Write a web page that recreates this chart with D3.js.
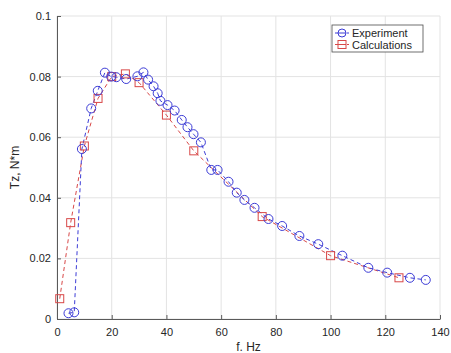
<!DOCTYPE html>
<html>
<head>
<meta charset="utf-8">
<script src="https://cdn.jsdelivr.net/npm/d3@7"></script>
<style>
  body { margin: 0; background: #fff; }
  text { font-family: "Liberation Sans", Arial, sans-serif; }
</style>
</head>
<body>
<div id="chart"></div>
<script>
// measured data
var expF = [4.2, 6.3, 9.1, 12.5, 14.9, 17.5, 19.8, 21.7, 25.3, 29.4, 31.6, 33.3, 35.3, 36.8, 37.8,
            40.4, 43.0, 45.6, 47.7, 49.9, 52.6, 56.4, 58.7, 62.7, 65.7, 68.5, 72.2, 77.3, 82.3,
            88.6, 95.5, 104.3, 113.8, 120.7, 129.0, 134.8];
var expT = [0.0019, 0.0022, 0.0561, 0.0695, 0.0753, 0.0813, 0.0800, 0.0798, 0.0792, 0.0801, 0.0814,
            0.0790, 0.0768, 0.0745, 0.0720, 0.0706, 0.0688, 0.0657, 0.0633, 0.0610, 0.0583, 0.0492,
            0.0492, 0.0453, 0.0417, 0.0393, 0.0367, 0.0330, 0.0307, 0.0274, 0.0247, 0.0209, 0.0169,
            0.0153, 0.0136, 0.0129];
// calculated data
var calcF = [1, 5, 10, 15, 20, 25, 30, 40, 50, 75, 100, 125];
var calcT = [0.0067, 0.0318, 0.0571, 0.0728, 0.0800, 0.0809, 0.0780, 0.0673, 0.0555, 0.0338, 0.0209, 0.0136];

var xTicks = [0, 20, 40, 60, 80, 100, 120, 140];
var yTicks = [0, 0.02, 0.04, 0.06, 0.08, 0.1];
var legendNames = ["Experiment", "Calculations"];

var width = 451, height = 353;
var margin = {top: 16, right: 11, bottom: 34, left: 57};

var blue = "#3c3cd6", red = "#d84848";

var svg = d3.select("#chart").append("svg")
    .attr("width", width)
    .attr("height", height);

var x = d3.scaleLinear().domain([0, 140]).range([margin.left, width - margin.right]);
var y = d3.scaleLinear().domain([0, 0.1]).range([height - margin.bottom, margin.top]);

// grid
svg.append("g").selectAll("line").data(xTicks).enter().append("line")
    .attr("x1", function(d) { return x(d); }).attr("x2", function(d) { return x(d); })
    .attr("y1", y(0)).attr("y2", y(0.1))
    .attr("stroke", "#e3e3e3").attr("stroke-width", 1);
svg.append("g").selectAll("line").data(yTicks).enter().append("line")
    .attr("y1", function(d) { return y(d); }).attr("y2", function(d) { return y(d); })
    .attr("x1", x(0)).attr("x2", x(140))
    .attr("stroke", "#e3e3e3").attr("stroke-width", 1);

// axes, ticks drawn inside
var xAxis = svg.append("g")
    .attr("transform", "translate(0," + y(0) + ")")
    .call(d3.axisBottom(x).tickValues(xTicks).tickSizeInner(-4).tickSizeOuter(0).tickPadding(9)
        .tickFormat(d3.format("d")));
var yAxis = svg.append("g")
    .attr("transform", "translate(" + x(0) + ",0)")
    .call(d3.axisLeft(y).tickValues(yTicks).tickSizeInner(-4).tickSizeOuter(0).tickPadding(6)
        .tickFormat(function(d) { return d === 0 ? "0" : d3.format("~g")(d); }));

[xAxis, yAxis].forEach(function(a) {
    a.select(".domain").attr("stroke", "#5a5a5a");
    a.selectAll(".tick line").attr("stroke", "#5a5a5a");
    a.selectAll(".tick text").attr("fill", "#262626")
        .style("font-size", "11px")
        .style("font-family", "'Liberation Sans', Arial, sans-serif");
});

// axis labels
svg.append("text")
    .attr("x", (x(0) + x(140)) / 2).attr("y", 351)
    .attr("text-anchor", "middle")
    .attr("fill", "#262626").style("font-size", "12px")
    .text("f. Hz");
svg.append("text")
    .attr("transform", "translate(19," + ((y(0) + y(0.1)) / 2) + ") rotate(-90)")
    .attr("text-anchor", "middle")
    .attr("fill", "#262626").style("font-size", "12px")
    .text("Tz, N*m");

var expData = expF.map(function(f, i) { return [f, expT[i]]; });
var calcData = calcF.map(function(f, i) { return [f, calcT[i]]; });

var line = d3.line()
    .x(function(d) { return x(d[0]); })
    .y(function(d) { return y(d[1]); });

svg.append("path").datum(calcData)
    .attr("d", line).attr("fill", "none")
    .attr("stroke", red).attr("stroke-width", 1).attr("stroke-dasharray", "4,3");
svg.append("path").datum(expData)
    .attr("d", line).attr("fill", "none")
    .attr("stroke", blue).attr("stroke-width", 1).attr("stroke-dasharray", "4,3");

svg.append("g").selectAll("rect").data(calcData).enter().append("rect")
    .attr("x", function(d) { return x(d[0]) - 4; })
    .attr("y", function(d) { return y(d[1]) - 4; })
    .attr("width", 8).attr("height", 8)
    .attr("fill", "none").attr("stroke", red).attr("stroke-width", 1);

svg.append("g").selectAll("circle").data(expData).enter().append("circle")
    .attr("cx", function(d) { return x(d[0]); })
    .attr("cy", function(d) { return y(d[1]); })
    .attr("r", 4.5)
    .attr("fill", "none").attr("stroke", blue).attr("stroke-width", 1);

// legend
var lg = svg.append("g").attr("transform", "translate(332,25)");
lg.append("rect").attr("width", 91).attr("height", 27)
    .attr("fill", "#fff").attr("stroke", "#4d4d4d").attr("stroke-width", 0.8);
legendNames.forEach(function(name, i) {
    var cy = 8 + i * 11.5;
    var col = i === 0 ? blue : red;
    lg.append("line").attr("x1", 3).attr("x2", 17).attr("y1", cy).attr("y2", cy)
        .attr("stroke", col).attr("stroke-width", 1).attr("stroke-dasharray", "3,3");
    if (i === 0) {
        lg.append("circle").attr("cx", 10).attr("cy", cy).attr("r", 4)
            .attr("fill", "#fff").attr("stroke", col);
        lg.append("line").attr("x1", 6).attr("x2", 14).attr("y1", cy).attr("y2", cy).attr("stroke", col);
    } else {
        lg.append("rect").attr("x", 6).attr("y", cy - 4).attr("width", 8).attr("height", 8)
            .attr("fill", "#fff").attr("stroke", col);
        lg.append("line").attr("x1", 6).attr("x2", 14).attr("y1", cy).attr("y2", cy).attr("stroke", col);
    }
    lg.append("text").attr("x", 20).attr("y", cy + 4)
        .attr("fill", "#262626").style("font-size", "11px")
        .text(name);
});
</script>
</body>
</html>
